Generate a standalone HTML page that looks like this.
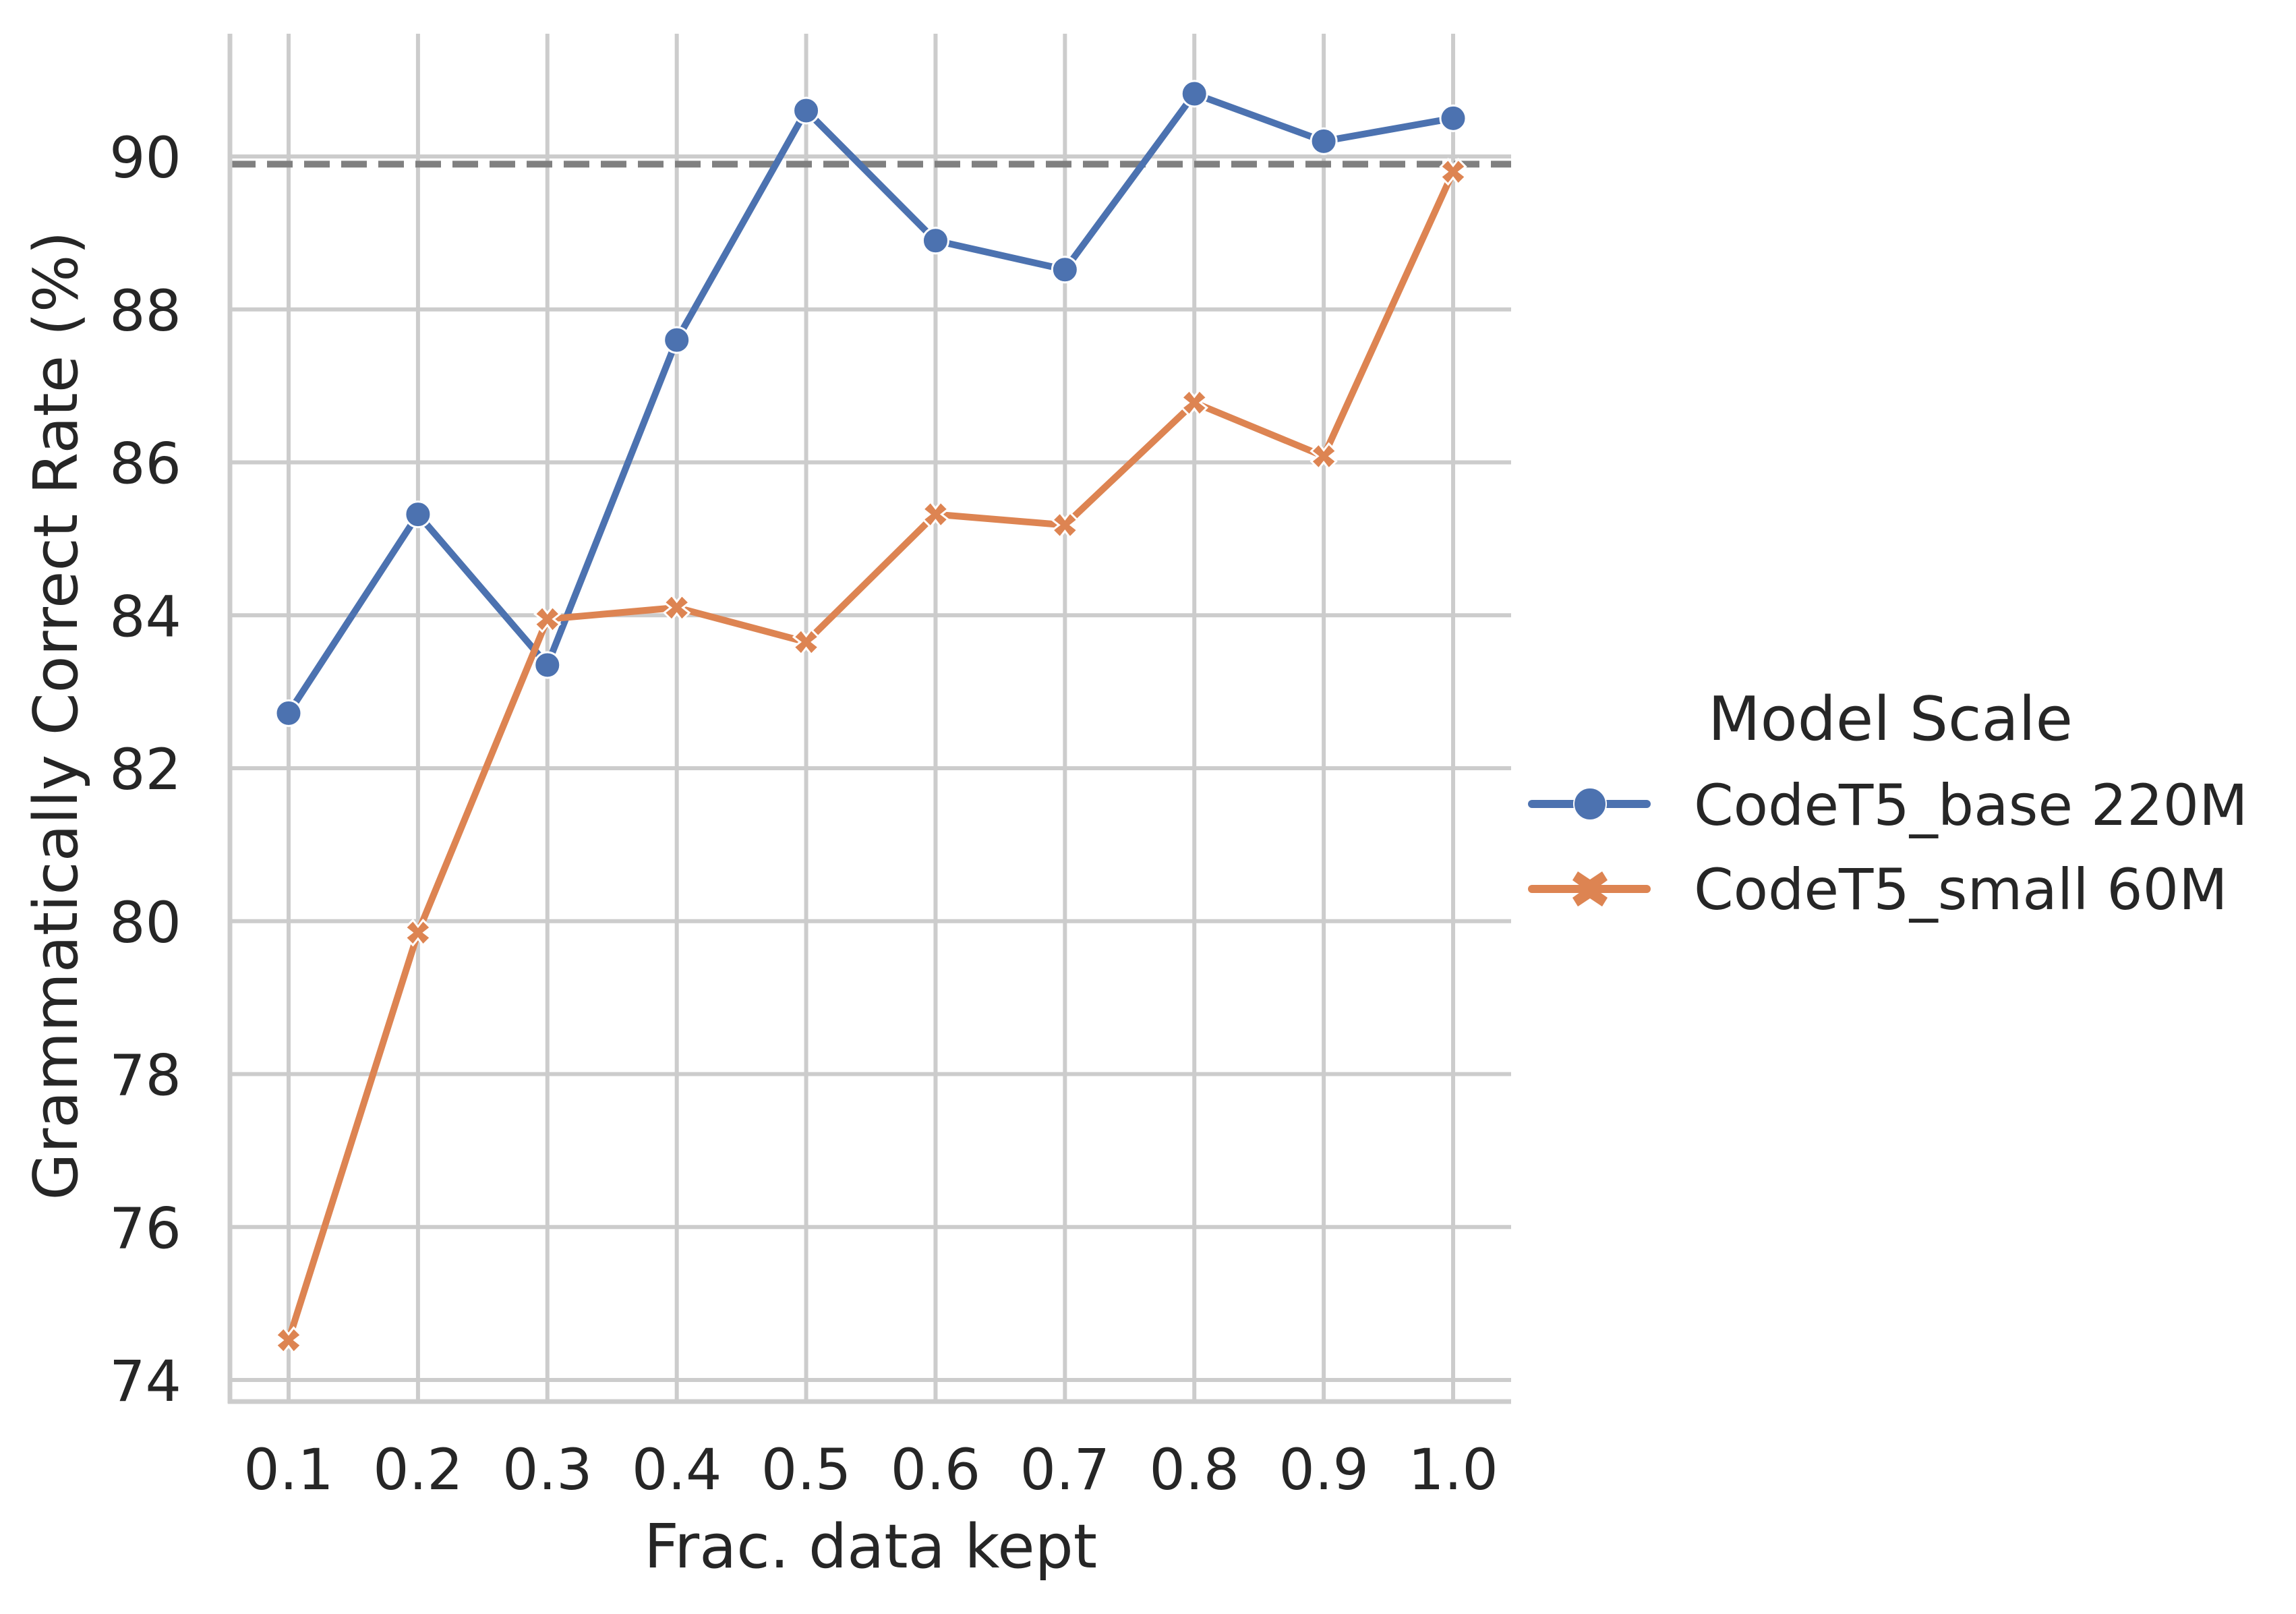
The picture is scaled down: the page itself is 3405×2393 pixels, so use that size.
<!DOCTYPE html>
<html><head><meta charset="utf-8"><style>
html,body{margin:0;padding:0;background:#fff;}
svg{display:block;font-family:"DejaVu Sans","Liberation Sans",sans-serif;}
</style></head><body>
<svg id="chart" width="3405" height="2393" viewBox="0 0 3405 2393" xmlns="http://www.w3.org/2000/svg">
<g id="grid"></g>
<g id="ref"></g>
<g id="series"></g>
<g id="axes"></g>
<text x="1291" y="2324" font-size="90" text-anchor="middle" fill="#262626">Frac. data kept</text>
<text transform="translate(114,1061) rotate(-90)" font-size="90" text-anchor="middle" fill="#262626">Grammatically Correct Rate (%)</text>
<g>
<text x="2533" y="1097" font-size="90" fill="#262626">Model Scale</text>
<g>
<line x1="2272" y1="1192" x2="2442" y2="1192" stroke="#4c72b0" stroke-width="12" stroke-linecap="round"/>
<circle cx="2358" cy="1192" r="24" fill="#4c72b0" stroke="#fff" stroke-width="2"/>
<text x="2512" y="1223" font-size="84" fill="#262626">CodeT5_base 220M</text>
</g>
<g>
<line x1="2272" y1="1318" x2="2442" y2="1318" stroke="#dd8452" stroke-width="12" stroke-linecap="round"/>
<path d="M2340,1292 L2358,1304 L2376,1292 L2384,1305 L2366,1318 L2384,1331 L2376,1344 L2358,1332 L2340,1344 L2332,1331 L2350,1318 L2332,1305 Z" fill="#dd8452"/>
<text x="2512" y="1348" font-size="84" fill="#262626">CodeT5_small 60M</text>
</g>
</g>
</svg>
<script>
const xCategories = [0.1,0.2,0.3,0.4,0.5,0.6,0.7,0.8,0.9,1.0];
const xTickLabels = ["0.1","0.2","0.3","0.4","0.5","0.6","0.7","0.8","0.9","1.0"];
const yTicks = [74,76,78,80,82,84,86,88,90];
const baseValues = [82.72,85.32,83.35,87.6,90.6,88.9,88.52,90.82,90.2,90.5];
const smallValues = [74.52,79.85,83.95,84.1,83.65,85.32,85.18,86.78,86.08,89.8];
const refValue = 89.9;

const NS="http://www.w3.org/2000/svg";
const L=341,R=2241,T=50,B=2078;
const x0=0.1,px0=428,pxPer=(2155-428)/0.9;
const y0=74,py0=2046,pyPer=(2046-232)/16;
function X(v){return px0+(v-x0)*pxPer;}
function Y(v){return py0-(v-y0)*pyPer;}
function mk(tag,attrs,parent){const e=document.createElementNS(NS,tag);for(const k in attrs)e.setAttribute(k,attrs[k]);parent.appendChild(e);return e;}
const grid=document.getElementById('grid'),axes=document.getElementById('axes'),ser=document.getElementById('series'),ref=document.getElementById('ref');
xCategories.forEach((c,i)=>{
  const g=mk('line',{x1:X(c),x2:X(c),y1:T,y2:B,stroke:'#cccccc','stroke-width':6},grid);
  
  
  const t=mk('text',{x:X(c),y:2208,'font-size':84,'text-anchor':'middle',fill:'#262626'},axes);
  t.textContent=xTickLabels[i];
  
  
});
yTicks.forEach(v=>{
  const g=mk('line',{x1:L,x2:R,y1:Y(v),y2:Y(v),stroke:'#cccccc','stroke-width':6},grid);
  
  
  const t=mk('text',{x:269,y:Y(v)+31,'font-size':84,'text-anchor':'end',fill:'#262626'},axes);
  t.textContent=String(v);
  
  
});
const sp1=mk('line',{x1:L,x2:L,y1:T,y2:B+3,stroke:'#cccccc','stroke-width':7},axes);


const sp2=mk('line',{x1:L-3,x2:R,y1:B,y2:B,stroke:'#cccccc','stroke-width':7},axes);


const rl=mk('line',{x1:L,x2:R,y1:Y(refValue),y2:Y(refValue),stroke:'#808080','stroke-width':10,'stroke-dasharray':'38,17'},ref);


function drawSeries(vals,color,kind,name){
  const pts=vals.map((v,i)=>X(xCategories[i])+','+Y(v)).join(' ');
  const pl=mk('polyline',{points:pts,fill:'none',stroke:color,'stroke-width':10,'stroke-linejoin':'round','stroke-linecap':'round'},ser);
  
  
  vals.forEach((v,i)=>{
    const cx=X(xCategories[i]),cy=Y(v);let m;
    if(kind==='circle'){m=mk('circle',{cx:cx,cy:cy,r:19,fill:color,stroke:'#fff','stroke-width':3},ser);}
    else{const s=13,w=5.5;
      m=mk('path',{d:`M${cx-s-w},${cy-s+w} L${cx-s+w},${cy-s-w} L${cx},${cy-2*w+2} L${cx+s-w},${cy-s-w} L${cx+s+w},${cy-s+w} L${cx+2*w-2},${cy} L${cx+s+w},${cy+s-w} L${cx+s-w},${cy+s+w} L${cx},${cy+2*w-2} L${cx-s+w},${cy+s+w} L${cx-s-w},${cy+s-w} L${cx-2*w+2},${cy} Z`,fill:color,stroke:'#fff','stroke-width':3},ser);}
    
    
  });
}
drawSeries(baseValues,'#4c72b0','circle','codet5-base');
drawSeries(smallValues,'#dd8452','x','codet5-small');
</script>
</body></html>
